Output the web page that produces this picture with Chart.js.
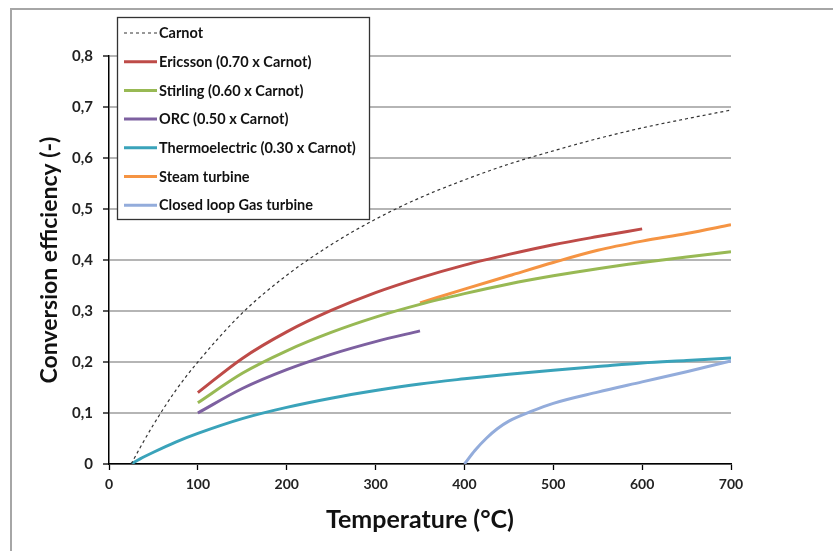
<!DOCTYPE html>
<html>
<head>
<meta charset="utf-8">
<script src="https://cdn.jsdelivr.net/npm/chart.js@4.4.0/dist/chart.umd.min.js"></script>
<style>
  html, body { margin: 0; padding: 0; background: #fff; }
  #wrap { position: relative; width: 833px; height: 551px; overflow: hidden; }
  #cadre { position: absolute; left: 10px; top: 8px; width: 900px; height: 600px; border: 2px solid #a6a6a6; }
  #graficoEficiencia { position: absolute; left: 0; top: 0; }
</style>
</head>
<body>
<div id="wrap">
  <div id="cadre"></div>
  <canvas id="graficoEficiencia" width="833" height="551"></canvas>
</div>
<script>
// valores (temperatura em °C, eficiência)
const tempCarnot = [25, 35, 50, 75, 100, 150, 200, 250, 300, 350, 400, 450, 500, 550, 600, 650, 700];
const carnot = [0, 0.032, 0.077, 0.144, 0.200, 0.296, 0.370, 0.430, 0.480, 0.522, 0.557, 0.588, 0.614, 0.638, 0.659, 0.677, 0.694];

const tempEricsson = [100, 150, 200, 250, 300, 350, 400, 450, 500, 550, 600];
const ericsson = [0.140, 0.207, 0.259, 0.301, 0.336, 0.365, 0.390, 0.411, 0.430, 0.446, 0.461];

const tempStirling = [100, 150, 200, 250, 300, 350, 400, 450, 500, 550, 600, 650, 700];
const stirling = [0.120, 0.178, 0.222, 0.258, 0.288, 0.313, 0.334, 0.353, 0.369, 0.383, 0.395, 0.406, 0.416];

const tempOrc = [100, 150, 200, 250, 300, 350];
const orc = [0.100, 0.148, 0.185, 0.215, 0.240, 0.261];

const tempTermo = [25, 35, 50, 75, 100, 150, 200, 250, 300, 350, 400, 450, 500, 550, 600, 650, 700];
const termoeletrico = [0, 0.010, 0.023, 0.043, 0.060, 0.089, 0.111, 0.129, 0.144, 0.157, 0.167, 0.176, 0.184, 0.191, 0.198, 0.203, 0.208];

const tempVapor = [350, 400, 450, 500, 550, 600, 650, 700];
const turbinaVapor = [0.316, 0.343, 0.369, 0.395, 0.419, 0.437, 0.452, 0.469];

const tempGas = [400, 412, 425, 437, 450, 475, 500, 550, 600, 650, 700];
const turbinaGas = [0, 0.027, 0.051, 0.069, 0.084, 0.103, 0.119, 0.141, 0.161, 0.181, 0.202];

const ticksY = [0, 0.1, 0.2, 0.3, 0.4, 0.5, 0.6, 0.7, 0.8];

function pontos(xs, ys) {
    return xs.map((x, i) => ({ x: x, y: ys[i] }));
}

function serie(label, xs, ys, cor, extra) {
    return Object.assign({
        label: label,
        data: pontos(xs, ys),
        borderColor: cor,
        backgroundColor: cor,
        borderWidth: 3,
        pointRadius: 0,
        showLine: true,
        cubicInterpolationMode: 'monotone',
        fill: false
    }, extra || {});
}

const fonte = 'Lato, "Open Sans", sans-serif';

// legenda desenhada dentro da área do gráfico, com caixa branca
const legendaInterna = {
    id: 'legendaInterna',
    afterDatasetsDraw(chart) {
        const ctx = chart.ctx;
        const x0 = 117.5, y0 = 17.5, w = 252, h = 202;
        ctx.save();
        ctx.fillStyle = '#fff';
        ctx.fillRect(x0, y0, w, h);
        ctx.strokeStyle = '#333';
        ctx.lineWidth = 1.3;
        ctx.strokeRect(x0, y0, w, h);
        ctx.font = 'bold 14.5px ' + fonte;
        ctx.textBaseline = 'middle';
        chart.data.datasets.forEach((ds, i) => {
            const y = 33 + i * 28.7;
            ctx.beginPath();
            ctx.strokeStyle = ds.borderColor;
            ctx.lineWidth = ds.borderDash ? 1.2 : 3;
            ctx.setLineDash(ds.borderDash || []);
            ctx.moveTo(124, y);
            ctx.lineTo(157, y);
            ctx.stroke();
            ctx.setLineDash([]);
            ctx.fillStyle = '#111';
            ctx.fillText(ds.label, 159, y + 0.5);
        });
        ctx.restore();
    }
};

const graficoEficiencia = document.getElementById('graficoEficiencia');

const graficoParaEficiencia = new Chart(graficoEficiencia, {
    type: 'scatter',
    data: {
        datasets: [
            serie('Carnot', tempCarnot, carnot, '#333333', { borderWidth: 1.2, borderDash: [3, 3] }),
            serie('Ericsson (0.70 x Carnot)', tempEricsson, ericsson, '#be4b48'),
            serie('Stirling (0.60 x Carnot)', tempStirling, stirling, '#98b954'),
            serie('ORC (0.50 x Carnot)', tempOrc, orc, '#7d60a0'),
            serie('Thermoelectric (0.30 x Carnot)', tempTermo, termoeletrico, '#3aa3ba'),
            serie('Steam turbine', tempVapor, turbinaVapor, '#f59443'),
            serie('Closed loop Gas turbine', tempGas, turbinaGas, '#93acdb')
        ]
    },
    options: {
        responsive: false,
        animation: false,
        layout: { padding: { left: 0, top: 56, right: 102, bottom: 0 } },
        plugins: {
            legend: { display: false },
            tooltip: { enabled: false }
        },
        scales: {
            x: {
                type: 'linear',
                min: 0,
                max: 700,
                afterFit: (escala) => { escala.height = 87; },
                ticks: {
                    stepSize: 100,
                    color: '#222',
                    padding: 6,
                    font: { family: fonte, size: 14, weight: 'bold' }
                },
                grid: { drawOnChartArea: false, tickLength: 6, tickColor: '#000', tickWidth: 1.3 },
                border: { color: '#000', width: 1.5 },
                title: {
                    display: true,
                    text: 'Temperature (°C)',
                    color: '#111',
                    padding: { top: 0, bottom: 16 },
                    font: { family: fonte, size: 25, weight: 'bold' }
                }
            },
            y: {
                type: 'linear',
                min: 0,
                max: 0.8,
                afterFit: (escala) => { escala.width = 109; },
                afterBuildTicks: (escala) => { escala.ticks = ticksY.map(v => ({ value: v })); },
                ticks: {
                    color: '#222',
                    padding: 10,
                    font: { family: fonte, size: 15, weight: 'bold' },
                    callback: (v) => v === 0 ? '0' : v.toFixed(1).replace('.', ',')
                },
                grid: { color: '#b5b5b5', lineWidth: 2, tickLength: 6, tickColor: '#000', tickWidth: 1.3 },
                border: { color: '#000', width: 1.5 },
                title: {
                    display: true,
                    text: 'Conversion efficiency (-)',
                    color: '#111',
                    padding: { top: 36, bottom: 0 },
                    font: { family: fonte, size: 23, weight: 'bold' }
                }
            }
        }
    },
    plugins: [legendaInterna]
});
</script>
</body>
</html>
